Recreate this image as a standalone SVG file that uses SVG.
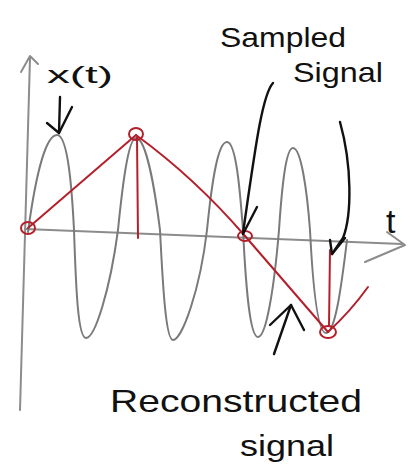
<svg xmlns="http://www.w3.org/2000/svg" width="418" height="468" viewBox="0 0 418 468">
<style>
.ax{fill:none;stroke:#8c8c8c;stroke-width:2;stroke-linecap:round;stroke-linejoin:round}
.sig{fill:none;stroke:#7a7a7a;stroke-width:2;stroke-linecap:round;stroke-linejoin:round}
.rec{fill:none;stroke:#b3202c;stroke-width:2;stroke-linecap:round;stroke-linejoin:round}
.arr{fill:none;stroke:#111;stroke-width:2.4;stroke-linecap:round;stroke-linejoin:round}
.lbl{font-family:"Liberation Sans","DejaVu Sans",sans-serif;fill:#111}
</style>
<rect width="418" height="468" fill="#ffffff"/>
<g id="axes">
<path class="ax" d="M30,58 L20,410"/>
<path class="ax" d="M21,72 L30,56 L38,64"/>
<path class="ax" d="M25,229 L402,244"/>
<path class="ax" d="M387,232 L405,245 L365,262"/>
</g>
<g id="signal-x">
<path class="sig" d="M28,232 C35,180 45,135 57,135 C68,135 72,190 74,230 C76,290 78,338 86,338 C95,338 110,290 118,230 C122,190 128,138 136,138 C146,138 155,190 160,230 C163,290 166,340 173,340 C182,340 200,290 207,230 C212,180 218,142 227,142 C236,142 240,190 243,230 C246,290 250,337 258,337 C266,337 274,290 279,230 C282,185 286,148 293,148 C301,148 307,190 310,230 C313,290 318,333 326,333 C335,333 341,290 347,240"/>
</g>
<g id="reconstructed">
<path class="rec" d="M28,228 L136,135"/>
<path class="rec" d="M136,135 Q195,178 245,236"/>
<path class="rec" d="M245,236 Q290,288 328,332"/>
<path class="rec" d="M328,332 Q350,312 368,287"/>
<path class="rec" d="M137,137 L138,238"/>
<path class="rec" d="M330,250 L329,326"/>
<ellipse class="rec" cx="28" cy="228" rx="7" ry="6"/>
<ellipse class="rec" cx="136" cy="134" rx="7" ry="6"/>
<ellipse class="rec" cx="245" cy="236" rx="7" ry="5"/>
<ellipse class="rec" cx="328" cy="332" rx="8" ry="6"/>
</g>
<g id="connectors">
<path class="arr" d="M60,97 L59,133"/>
<path class="arr" d="M47,123 L59,133 L72,107"/>
<path class="arr" d="M273,83 C262,95 255,150 243,233"/>
<path class="arr" d="M257,207 L243,234"/>
<path class="arr" d="M340,122 C352,165 352,215 343,238 L332,254"/>
<path class="arr" d="M330,240 L332,254 L345,238"/>
<path class="arr" d="M274,354 L291,305"/>
<path class="arr" d="M270,325 L291,305 L304,330"/>
</g>
<g id="labels">
<text class="lbl" x="47" y="83" font-size="24" textLength="66" lengthAdjust="spacingAndGlyphs">x(t)</text>
<text class="lbl" x="386" y="233" font-size="34">t</text>
<text class="lbl" x="220" y="47" font-size="28" textLength="126" lengthAdjust="spacingAndGlyphs">Sampled</text>
<text class="lbl" x="293" y="82" font-size="28" textLength="90" lengthAdjust="spacingAndGlyphs">Signal</text>
<text class="lbl" x="110" y="412" font-size="32" textLength="252" lengthAdjust="spacingAndGlyphs">Reconstructed</text>
<text class="lbl" x="240" y="456" font-size="30" textLength="94" lengthAdjust="spacingAndGlyphs">signal</text>
</g>
</svg>
